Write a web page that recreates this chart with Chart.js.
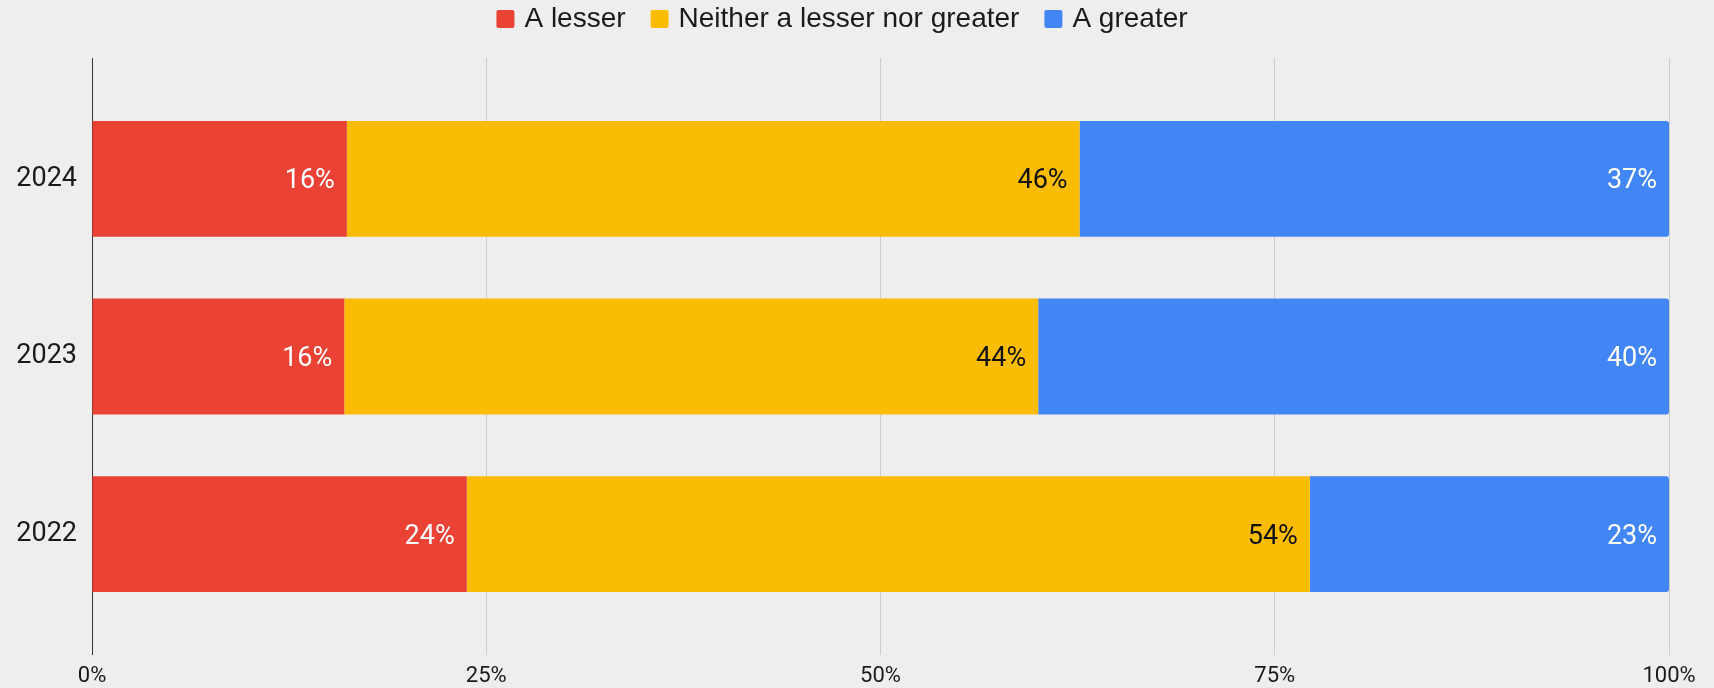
<!DOCTYPE html>
<html>
<head>
<meta charset="utf-8">
<script src="https://cdn.jsdelivr.net/npm/chart.js@4.4.1/dist/chart.umd.min.js"></script>
<style>
  html, body { margin: 0; padding: 0; background: #eeeeee; }
  #wrap { width: 1714px; height: 688px; }
</style>
</head>
<body>
<div id="wrap"><canvas id="c" width="1714" height="688"></canvas></div>
<script>
// Survey answers per year, in percent of respondents
const years = ['2024', '2023', '2022'];
const lesser = [16, 16, 24];
const neither = [46, 44, 54];
const greater = [37, 40, 23];
const xTicks = [0, 25, 50, 75, 100];

const seriesNames = ['A lesser', 'Neither a lesser nor greater', 'A greater'];
const seriesColors = ['#EA4335', '#FBBC04', '#4285F4'];
const labelColors = ['#ffffff', '#111111', '#ffffff'];
const rawSeries = [lesser, neither, greater];

// 100% stacked: each row is scaled to its own total
const totals = years.map((_, i) => lesser[i] + neither[i] + greater[i]);
const share = arr => arr.map((v, i) => v / totals[i] * 100);

const FONT = 'Roboto, "Liberation Sans", Arial, sans-serif';
const LEGEND_FONT = '"Liberation Sans", Arial, sans-serif';

function alignPx(p) { return Math.round(p - 0.5) + 0.5; }

// vertical grid lines reach above the plot area
const gridTop = {
  id: 'gridTop',
  beforeDatasetsDraw(chart) {
    const { ctx, chartArea, scales: { x } } = chart;
    ctx.save();
    ctx.lineWidth = 1;
    xTicks.forEach(v => {
      const px = alignPx(x.getPixelForValue(v));
      ctx.strokeStyle = v === 0 ? '#333333' : '#cccccc';
      ctx.beginPath();
      ctx.moveTo(px, 58);
      ctx.lineTo(px, chartArea.top);
      ctx.stroke();
    });
    ctx.restore();
  }
};

// value labels at the inner end of each segment
const barLabels = {
  id: 'barLabels',
  afterDatasetsDraw(chart) {
    const ctx = chart.ctx;
    ctx.save();
    ctx.font = '27px ' + FONT;
    ctx.textAlign = 'right';
    ctx.textBaseline = 'alphabetic';
    chart.data.datasets.forEach((ds, di) => {
      const meta = chart.getDatasetMeta(di);
      ctx.fillStyle = labelColors[di];
      meta.data.forEach((bar, i) => {
        ctx.fillText(rawSeries[di][i] + '%', bar.x - 12, bar.y + 9.5);
      });
    });
    ctx.restore();
  }
};

// legend row across the top
const topLegend = {
  id: 'topLegend',
  afterDraw(chart) {
    const ctx = chart.ctx;
    ctx.save();
    ctx.font = '28px ' + LEGEND_FONT;
    const box = 18, gap = 10, itemGap = 25;
    const widths = chart.data.datasets.map(d => box + gap + ctx.measureText(d.label).width);
    const total = widths.reduce((a, b) => a + b, 0) + itemGap * (widths.length - 1);
    let x = 842 - total / 2;
    chart.data.datasets.forEach((d, i) => {
      ctx.fillStyle = d.backgroundColor;
      ctx.beginPath();
      ctx.roundRect(x, 10, box, box, 2);
      ctx.fill();
      ctx.fillStyle = '#1a1a1a';
      ctx.textAlign = 'left';
      ctx.textBaseline = 'alphabetic';
      ctx.fillText(d.label, x + box + gap, 27);
      x += widths[i] + itemGap;
    });
    ctx.restore();
  }
};

function draw() {
  new Chart(document.getElementById('c'), {
    type: 'bar',
    data: {
      labels: years,
      datasets: [
        { label: seriesNames[0], data: share(lesser), backgroundColor: seriesColors[0] },
        { label: seriesNames[1], data: share(neither), backgroundColor: seriesColors[1] },
        { label: seriesNames[2], data: share(greater), backgroundColor: seriesColors[2],
          borderRadius: 3, borderSkipped: 'start' }
      ]
    },
    options: {
      indexAxis: 'y',
      responsive: false,
      animation: false,
      devicePixelRatio: 1,
      categoryPercentage: 1,
      barPercentage: 0.652,
      layout: { padding: { top: 90, right: 45, left: 0, bottom: 0 } },
      plugins: {
        legend: { display: false },
        tooltip: { enabled: false }
      },
      scales: {
        x: {
          stacked: true,
          min: 0,
          max: 100,
          afterBuildTicks: s => { s.ticks = xTicks.map(v => ({ value: v })); },
          afterFit: s => { s.height = 65; },
          border: { display: false },
          grid: {
            color: c => (c.tick && c.tick.value === 0) ? '#333333' : '#cccccc',
            lineWidth: 1,
            drawTicks: true,
            tickLength: 32
          },
          ticks: {
            padding: 8,
            color: '#1a1a1a',
            font: { family: FONT, size: 22 },
            callback: v => v + '%'
          }
        },
        y: {
          stacked: true,
          afterFit: s => { s.width = 92; },
          border: { display: false },
          grid: { display: false, drawTicks: false },
          ticks: {
            padding: 15,
            color: '#1a1a1a',
            font: { family: FONT, size: 27 }
          }
        }
      }
    },
    plugins: [gridTop, barLabels, topLegend]
  });
}

if (document.fonts && document.fonts.load) {
  Promise.all([document.fonts.load('27px Roboto'), document.fonts.load('28px "Liberation Sans"')]).then(draw, draw);
} else {
  draw();
}
</script>
</body>
</html>
